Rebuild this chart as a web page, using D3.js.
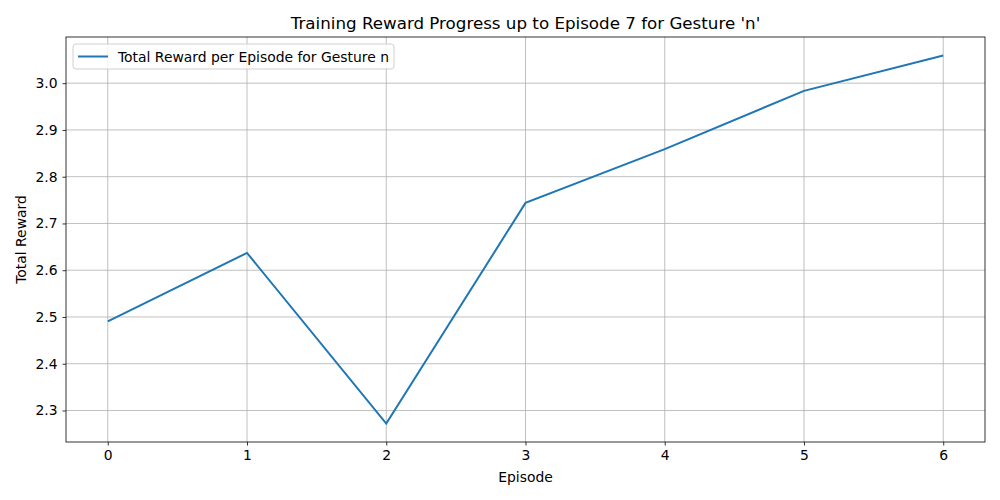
<!DOCTYPE html>
<html>
<head>
<meta charset="utf-8">
<script src="https://cdn.jsdelivr.net/npm/d3@7"></script>
<style>
  body { margin: 0; background: #fff; }
  text { font-family: "DejaVu Sans", sans-serif; fill: #000; }
</style>
</head>
<body>
<div id="chart"></div>
<script>
// Daten
const episodes = [0, 1, 2, 3, 4, 5, 6];
const rewards = [2.4907, 2.637, 2.272, 2.744, 2.859, 2.9835, 3.0594];
const yTicks = [2.3, 2.4, 2.5, 2.6, 2.7, 2.8, 2.9, 3.0];
const titleText = "Training Reward Progress up to Episode 7 for Gesture 'n'";
const seriesLabel = "Total Reward per Episode for Gesture n";

const W = 1000, H = 500;
const margin = { top: 37, right: 15, bottom: 58, left: 66 };
const width = W - margin.left - margin.right;
const height = H - margin.top - margin.bottom;

const svg = d3.select("#chart").append("svg")
  .attr("width", W).attr("height", H);

const g = svg.append("g")
  .attr("transform", `translate(${margin.left},${margin.top})`);

// matplotlib-artige 5% Ränder
const xPad = (d3.max(episodes) - d3.min(episodes)) * 0.05;
const yMin = d3.min(rewards), yMax = d3.max(rewards);
const yPad = (yMax - yMin) * 0.05;

const x = d3.scaleLinear()
  .domain([d3.min(episodes) - xPad, d3.max(episodes) + xPad])
  .range([0, width]);
const y = d3.scaleLinear()
  .domain([yMin - yPad, yMax + yPad])
  .range([height, 0]);

// Gitter
g.append("g").selectAll("line").data(episodes).enter().append("line")
  .attr("x1", d => x(d)).attr("x2", d => x(d))
  .attr("y1", 0).attr("y2", height)
  .attr("stroke", "#b0b0b0").attr("stroke-width", 0.8);
g.append("g").selectAll("line").data(yTicks).enter().append("line")
  .attr("y1", d => y(d)).attr("y2", d => y(d))
  .attr("x1", 0).attr("x2", width)
  .attr("stroke", "#b0b0b0").attr("stroke-width", 0.8);

// Achsen
const xAxis = g.append("g")
  .attr("transform", `translate(0,${height})`)
  .call(d3.axisBottom(x).tickValues(episodes).tickFormat(d3.format("d")).tickSize(3.5).tickPadding(5));
const yAxis = g.append("g")
  .call(d3.axisLeft(y).tickValues(yTicks).tickFormat(d3.format(".1f")).tickSize(3.5).tickPadding(5));

[xAxis, yAxis].forEach(a => {
  a.select(".domain").remove();
  a.selectAll("line").attr("stroke", "#000").attr("stroke-width", 0.8);
  a.selectAll("text").attr("font-size", "13.9px").attr("font-family", "DejaVu Sans");
});

// Rahmen
g.append("rect")
  .attr("width", width).attr("height", height)
  .attr("fill", "none").attr("stroke", "#000").attr("stroke-width", 0.8);

// Linie
const line = d3.line()
  .x((d, i) => x(episodes[i]))
  .y(d => y(d));
g.append("path")
  .datum(rewards)
  .attr("d", line)
  .attr("fill", "none")
  .attr("stroke", "#1f77b4")
  .attr("stroke-width", 2);

// Titel und Beschriftungen
svg.append("text")
  .attr("x", margin.left + width / 2).attr("y", 29)
  .attr("text-anchor", "middle").attr("font-size", "16.7px")
  .text(titleText);
svg.append("text")
  .attr("x", margin.left + width / 2).attr("y", 482)
  .attr("text-anchor", "middle").attr("font-size", "13.9px")
  .text("Episode");
svg.append("text")
  .attr("transform", `translate(26,${margin.top + height / 2}) rotate(-90)`)
  .attr("text-anchor", "middle").attr("font-size", "13.9px")
  .text("Total Reward");

// Legende
const legend = g.append("g").attr("transform", "translate(7,7)");
legend.append("rect")
  .attr("width", 321).attr("height", 25).attr("rx", 3)
  .attr("fill", "#fff").attr("fill-opacity", 0.8)
  .attr("stroke", "#d0d0d0").attr("stroke-width", 1);
legend.append("line")
  .attr("x1", 5).attr("x2", 35).attr("y1", 12.5).attr("y2", 12.5)
  .attr("stroke", "#1f77b4").attr("stroke-width", 2);
legend.append("text")
  .attr("x", 45).attr("y", 17.5).attr("font-size", "13.9px")
  .text(seriesLabel);
</script>
</body>
</html>
